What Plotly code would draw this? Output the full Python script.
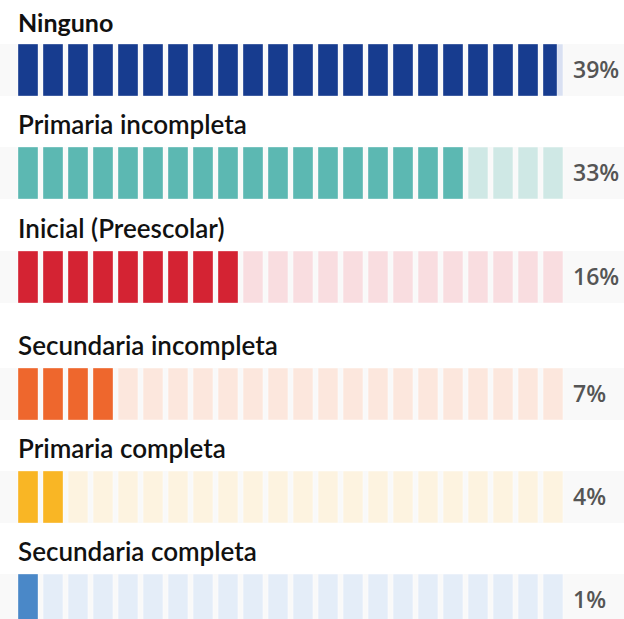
import plotly.graph_objects as go

# ---- data ----
categories = ["Ninguno", "Primaria incompleta", "Inicial (Preescolar)",
              "Secundaria incompleta", "Primaria completa", "Secundaria completa"]
percent_labels = ["39%", "33%", "16%", "7%", "4%", "1%"]
filled_units = [21.7, 18, 9, 4, 2, 1]   # blocks filled
total_units = 22

# ---- styles ----
dark_colors = ["#173c8f", "#5cb8b2", "#d42333", "#ee672d", "#f9b625", "#4a88c8"]
light_colors = ["#d9e0f2", "#cfe8e5", "#f9dde0", "#fce7dd", "#fdf3e0", "#e4edf8"]
row_tops = [44, 147, 251, 368, 471, 574]
row_h = 52
W, H = 624, 619
px0, pitch, bw = 28, 25, 0.8

fig = go.Figure()
shapes = []
annotations = []
for i, cat in enumerate(categories):
    top = row_tops[i]
    shapes.append(dict(type="rect", xref="paper", yref="y", x0=0, x1=1,
                       y0=top, y1=top + row_h, fillcolor="#f9f9f9",
                       line_width=0, layer="below"))
    xs = list(range(total_units))
    fig.add_trace(go.Bar(x=xs, y=[row_h] * total_units, base=[top] * total_units,
                         width=bw, marker=dict(color=light_colors[i],
                         line=dict(width=1, color="rgba(255,255,255,0.5)")),
                         hoverinfo="skip", showlegend=False))
    n_full = int(filled_units[i])
    frac = filled_units[i] - n_full
    fx = list(range(n_full))
    widths = [bw] * n_full
    if frac > 1e-6:
        fx.append(n_full)
        widths.append(bw * frac)
    fig.add_trace(go.Bar(x=fx, y=[row_h] * len(fx), base=[top] * len(fx),
                         width=widths, offset=-bw / 2,
                         marker=dict(color=dark_colors[i],
                         line=dict(width=1, color="rgba(255,255,255,0.35)")),
                         name=cat, hoverinfo="name", showlegend=False))
    annotations.append(dict(text=cat, xref="paper", yref="y", x=16 / W, y=top - 5,
                            xanchor="left", yanchor="bottom", showarrow=False,
                            font=dict(family="Lato", size=25 if i == 0 else 26,
                                      color="#111111",
                                      weight="bold" if i == 0 else 600)))
    annotations.append(dict(text=percent_labels[i], xref="paper", yref="y",
                            x=571 / W, y=top + row_h / 2 - 1, xanchor="left",
                            yanchor="middle", showarrow=False,
                            font=dict(family="Open Sans", size=23, color="#555555",
                                      weight=600)))

fig.update_layout(
    width=W, height=H, margin=dict(l=0, r=0, t=0, b=0),
    paper_bgcolor="white", plot_bgcolor="white", barmode="overlay",
    xaxis=dict(range=[(0 - px0) / pitch, (W - px0) / pitch], visible=False,
               fixedrange=True),
    yaxis=dict(range=[H, 0], visible=False, fixedrange=True),
    shapes=shapes, annotations=annotations,
)
fig.write_html("out.html", config={"displayModeBar": False},
               post_script="document.body.style.margin='0';")
